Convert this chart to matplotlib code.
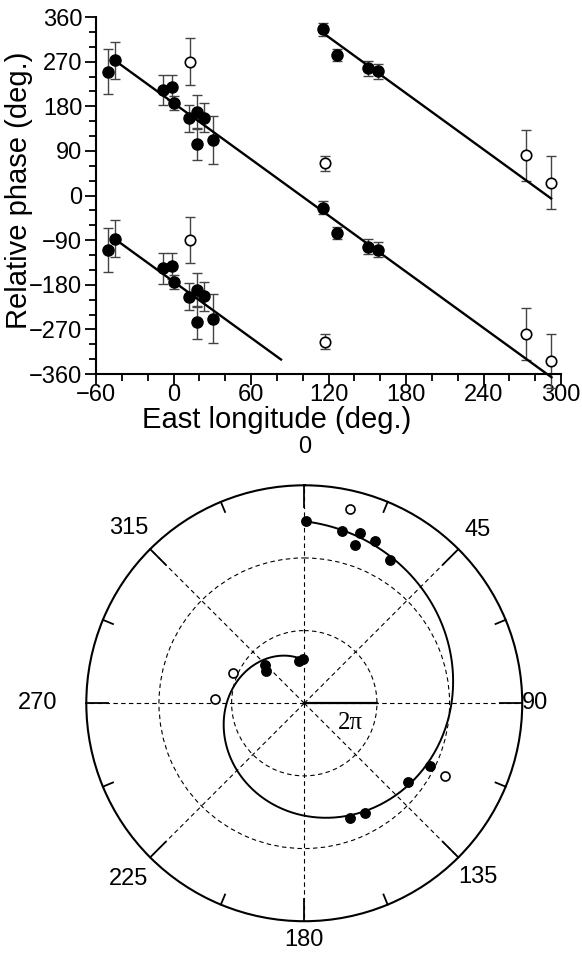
import numpy as np
import matplotlib
matplotlib.use("Agg")
import matplotlib.pyplot as plt

plt.rcParams['font.family'] = ['Liberation Sans', 'DejaVu Sans']

# ---- top panel: relative phase vs east longitude ----
lon_filled = [-50.5, -45.3, -7.9, -1.2, 0.1, 12, 18, 23.6, 18, 30.3,
              115.7, 126.8, 150.6, 158.3]
phase_filled = [250, 273, 213, 218, 186, 156, 169, 157, 104, 112,
                335, 284, 257, 251]
err_filled = [45, 37, 31, 26, 14, 27, 34, 29, 33, 49, 13, 12, 15, 15]

lon_open = [13, 117.3, 272.9, 292.3]
phase_open = [270, 65, 81, 26]
err_open = [47, 15, 52, 54]

# fitted phase line: phase = fit_a + fit_b * lon, drawn in three wrapped pieces
fit_a = 186.5
fit_b = -1.89
fit_pieces = [(-45.3, 83.2, -360), (-45.3, 292.6, 0), (115.7, 292.3, 360)]

xticks = [-60, 0, 60, 120, 180, 240, 300]
yticks = [-360, -270, -180, -90, 0, 90, 180, 270, 360]

# ---- bottom panel: polar phase spiral (theta in deg, r in units of pi) ----
pol_theta_filled = [0.5, 12.4, 18.0, 17.8, 23.6, 31.0,
                    352.5, 358.7, 314.5, 310.4,
                    116.3, 127.4, 151.1, 158.4]
pol_r_filled = [5.02, 4.86, 4.93, 4.57, 4.86, 4.60,
                1.17, 1.21, 1.50, 1.38,
                3.87, 3.58, 3.44, 3.41]
pol_theta_open = [13.4, 292.6, 272.6, 117.4]
pol_r_open = [5.49, 2.14, 2.45, 4.37]

spiral_r_start = 1.18   # r (x pi) at theta = 360
spiral_r_end = 5.01     # r (x pi) after one full turn, theta = 0

angle_labels = ['0', '45', '90', '135', '180', '225', '270', '315']
angle_label_r = [7.05, 6.75, 6.35, 6.77, 6.52, 6.83, 7.35, 6.83]

fig = plt.figure(figsize=(5.82, 9.68), dpi=100)

ax = fig.add_axes([0.165, 0.6136, 0.799, 0.3688])
ebar_kw = dict(fmt='none', ecolor='#444444', elinewidth=1.0, capsize=3.5,
               capthick=1.0, clip_on=False, zorder=2)
for shift in (0, -360):
    ax.errorbar(lon_filled, np.array(phase_filled) + shift, yerr=err_filled, **ebar_kw)
    ax.errorbar(lon_open, np.array(phase_open) + shift, yerr=err_open, **ebar_kw)
    ax.plot(lon_filled, np.array(phase_filled) + shift, 'o', color='black',
            ms=8, zorder=4, clip_on=False)
    ax.plot(lon_open, np.array(phase_open) + shift, 'o', mfc='white', mec='black',
            mew=1.2, ms=7.5, zorder=4, clip_on=False)

for x0, x1, shift in fit_pieces:
    xs = np.array([x0, x1])
    ax.plot(xs, fit_a + fit_b * xs + shift, color='black', lw=1.7, zorder=3,
            clip_on=False)

ax.set_xlim(-60, 300)
ax.set_ylim(-360, 360)
ax.set_xticks(xticks)
ax.set_yticks(yticks)
ax.set_xticks(np.arange(-60, 301, 20), minor=True)
ax.set_yticks(np.arange(-360, 361, 30), minor=True)
ax.tick_params(which='major', length=8, width=1.3, labelsize=17)
ax.tick_params(axis='x', which='major', pad=-1)
ax.tick_params(axis='y', which='major', pad=2)
ax.tick_params(which='minor', length=5, width=1.3)
for s in ('top', 'right'):
    ax.spines[s].set_visible(False)
for s in ('left', 'bottom'):
    ax.spines[s].set_linewidth(1.5)
ax.set_xlabel('East longitude (deg.)', fontsize=21)
ax.set_ylabel('Relative phase (deg.)', fontsize=21)
ax.xaxis.set_label_coords(0.389, -0.09)
ax.yaxis.set_label_coords(-0.135, 0.515)

# polar panel
R = 6 * np.pi
pax = fig.add_axes([0.1483, 0.0483, 0.749, 0.4504], projection='polar')
pax.set_theta_zero_location('N')
pax.set_theta_direction(-1)
pax.set_rlim(0, R)

phi = np.linspace(0, 360, 400)
sp_theta = np.radians(360 - phi)
sp_r = (spiral_r_start + (spiral_r_end - spiral_r_start) * phi / 360) * np.pi
pax.plot(sp_theta, sp_r, color='black', lw=1.4, zorder=3)

pax.plot(np.radians(pol_theta_filled), np.array(pol_r_filled) * np.pi, 'o',
         color='black', ms=6.8, zorder=4)
pax.plot(np.radians(pol_theta_open), np.array(pol_r_open) * np.pi, 'o',
         mfc='white', mec='black', mew=1.2, ms=6.5, zorder=4)

# 2 pi scale bar
pax.plot([np.pi / 2, np.pi / 2], [0, 2 * np.pi], color='black', lw=1.6, zorder=3)
pax.text(np.radians(113.5), 1.38 * np.pi, '2π', fontsize=18,
         family=['Liberation Serif', 'DejaVu Serif'], ha='center', va='center')

pax.set_rgrids([2 * np.pi, 4 * np.pi], labels=['', ''])
pax.set_xticks(np.radians(np.arange(0, 360, 45)))
pax.set_xticklabels([])
pax.tick_params(axis='x', length=0)
pax.grid(True, color='black', lw=0.8, linestyle=(0, (4, 3)))
pax.spines['polar'].set_linewidth(1.5)

# inward tick marks on the outer circle
for ang in np.arange(0, 360, 22.5):
    tick_len = 0.6 * np.pi if ang % 45 == 0 else 0.3 * np.pi
    pax.plot([np.radians(ang)] * 2, [R, R - tick_len], color='black', lw=1.3,
             zorder=2, clip_on=False)

for lab, ang, rr in zip(angle_labels, np.arange(0, 360, 45), angle_label_r):
    pax.text(np.radians(ang), rr * np.pi, lab, fontsize=17, ha='center',
             va='center', clip_on=False)

fig.savefig('out.png', dpi=100)
